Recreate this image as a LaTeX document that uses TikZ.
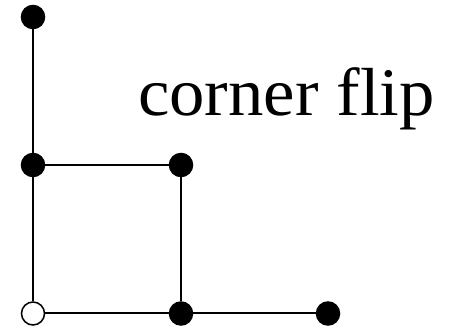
\documentclass[tikz,border=0pt]{standalone}
\usepackage{fontspec}
\setmainfont{Liberation Serif}
\begin{document}
\begin{tikzpicture}[x=1pt,y=1pt,
  vtx/.style={circle,draw=black,fill=black,line width=1.5pt,minimum size=23pt,inner sep=0pt},
  openvtx/.style={vtx,fill=white},
  edge/.style={line width=2pt}]
\useasboundingbox (0,0) rectangle (456,329);
\node[vtx] (top) at (33,312) {};
\node[vtx] (ml) at (33,164) {};
\node[vtx] (mr) at (181,164) {};
\node[openvtx] (bl) at (33,15.5) {};
\node[vtx] (bm) at (181,15.5) {};
\node[vtx] (br) at (328,15.5) {};
\draw[edge] (top) -- (ml);
\draw[edge] (ml) -- (mr);
\draw[edge] (ml) -- (bl);
\draw[edge] (mr) -- (bm);
\draw[edge] (bl) -- (bm);
\draw[edge] (bm) -- (br);
\node[anchor=base west,inner sep=0pt,xscale=1.04,font=\fontsize{68}{72}\selectfont] (lbl) at (138,213) {corner flip};
\end{tikzpicture}
\end{document}
